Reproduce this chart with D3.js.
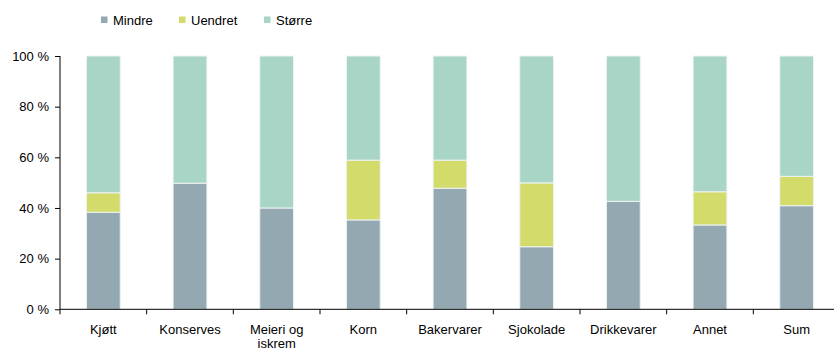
<!DOCTYPE html>
<html><head><meta charset="utf-8">
<script src="https://cdn.jsdelivr.net/npm/d3@7"></script>
<style>body{margin:0;background:#fff;} text{font-family:"Liberation Sans",Arial,sans-serif;}</style>
</head><body>
<svg id="c" width="834" height="352"></svg>
<script>
const categories = ["Kjøtt","Konserves","Meieri og iskrem","Korn","Bakervarer","Sjokolade","Drikkevarer","Annet","Sum"];
const mindre  = [38.3, 49.8, 40.0, 35.3, 47.8, 24.7, 42.6, 33.3, 40.9];
const uendret = [7.7, 0, 0, 23.6, 11.1, 25.2, 0, 13.1, 11.6];
const storre  = categories.map((c,i)=> 100 - mindre[i] - uendret[i]);
const seriesNames = ["Mindre","Uendret","Større"];
const colors = ["#94a8b2","#d3db6b","#a8d5c5"];
const yTicks = [0,20,40,60,80,100];

const svg = d3.select("#c");
const x = d3.scaleBand().domain(categories).range([60,840]).paddingInner(0.61).paddingOuter(0.305);
const xb = d3.scaleBand().domain(categories).range([60,840]);
const y = d3.scaleLinear().domain([0,100]).range([309.3,56]);

const rows = categories.map((c,i)=>({cat:c, Mindre:mindre[i], Uendret:uendret[i], "Større":storre[i]}));
const stack = d3.stack().keys(seriesNames)(rows);

svg.append("g").selectAll("g").data(stack).join("g")
  .attr("fill",(d,i)=>colors[i])
  .selectAll("rect").data(d=>d.filter(p=>p[1]-p[0]>0)).join("rect")
  .attr("x",d=>x(d.data.cat))
  .attr("width",x.bandwidth())
  .attr("y",d=>y(d[1]))
  .attr("height",d=>y(d[0])-y(d[1]))
  .attr("stroke","#eef3f3").attr("stroke-width",1);

// y axis
const ya = svg.append("g").attr("transform","translate(60,0)")
  .call(d3.axisLeft(y).tickValues(yTicks).tickFormat(d=>d+" %").tickSize(5).tickPadding(6));
ya.select(".domain").attr("stroke","#000").attr("d","M0,56V309.3");
ya.selectAll("text").attr("font-size",13).attr("fill","#000").attr("font-family","Liberation Sans, Arial, sans-serif");

// x axis
const xa = svg.append("g").attr("transform","translate(0,309.3)");
xa.append("line").attr("x1",60).attr("x2",840).attr("stroke","#000");
xa.selectAll("line.t").data(categories).join("line").attr("class","t")
  .attr("x1",d=>xb(d)).attr("x2",d=>xb(d)).attr("y1",0).attr("y2",5).attr("stroke","#000");
xa.selectAll("text").data(categories).join("text")
  .attr("x",d=>xb(d)+xb.bandwidth()/2).attr("y",24.5)
  .attr("text-anchor","middle").attr("font-size",13).attr("fill","#000")
  .each(function(d){
    const t = d3.select(this);
    const words = d.split(" ");
    let lines=[], cur="";
    words.forEach(w=>{ const test = cur?cur+" "+w:w; if(test.length>10 && cur){lines.push(cur);cur=w;} else cur=test;});
    lines.push(cur);
    lines.forEach((l,k)=>t.append("tspan").attr("x",xb(d)+xb.bandwidth()/2).attr("dy",k?14.5:0).text(l));
  });

// legend
const legX = [101,179,264];
const lg = svg.append("g");
seriesNames.forEach((s,i)=>{
  lg.append("rect").attr("x",legX[i]).attr("y",16.5).attr("width",6.5).attr("height",6.5).attr("fill",colors[i]);
  lg.append("text").attr("x",legX[i]+12).attr("y",24.5).attr("font-size",13).attr("fill","#000").text(s);
});
</script>
</body></html>
